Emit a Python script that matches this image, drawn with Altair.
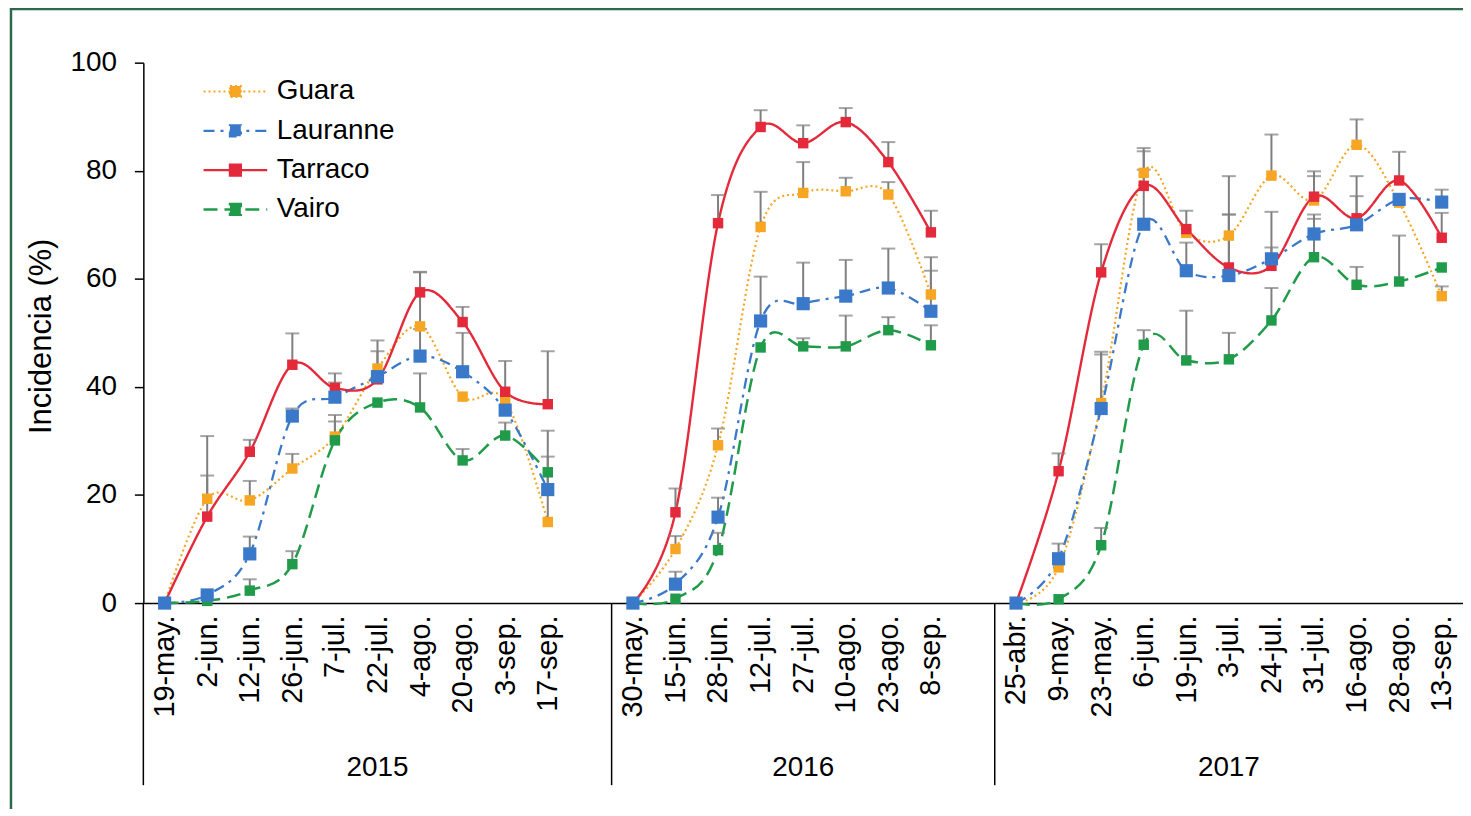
import json
import altair as alt
import pandas as pd

# ---------------- data ----------------
years = ["2015", "2016", "2017"]
dates_2015 = ["19-may.", "2-jun.", "12-jun.", "26-jun.", "7-jul.", "22-jul.", "4-ago.", "20-ago.", "3-sep.", "17-sep."]
dates_2016 = ["30-may.", "15-jun.", "28-jun.", "12-jul.", "27-jul.", "10-ago.", "23-ago.", "8-sep."]
dates_2017 = ["25-abr.", "9-may.", "23-may.", "6-jun.", "19-jun.", "3-jul.", "24-jul.", "31-jul.", "16-ago.", "28-ago.", "13-sep."]

series = ["Guara", "Lauranne", "Tarraco", "Vairo"]

guara_2015 = [0, 19.3, 19.0, 24.9, 30.8, 43.4, 51.2, 38.2, 37.5, 15.0]
guara_2016 = [0, 10.0, 29.2, 69.6, 75.9, 76.2, 75.6, 57.1]
guara_2017 = [0, 6.6, 37.0, 79.6, 68.5, 68.0, 79.1, 74.5, 84.8, 74.1, 56.8]

lauranne_2015 = [0, 1.5, 9.1, 34.6, 38.1, 41.9, 45.7, 42.8, 35.7, 21.0]
lauranne_2016 = [0, 3.5, 15.9, 52.2, 55.4, 56.8, 58.3, 54.0]
lauranne_2017 = [0, 8.2, 36.0, 70.1, 61.5, 60.6, 63.7, 68.3, 70.0, 74.7, 74.2]

tarraco_2015 = [0, 16.0, 28.0, 44.1, 39.8, 41.4, 57.5, 52.0, 39.1, 36.8]
tarraco_2016 = [0, 16.8, 70.3, 88.1, 85.1, 89.0, 81.6, 68.6]
tarraco_2017 = [0, 24.4, 61.2, 77.2, 69.2, 62.1, 62.4, 75.2, 71.2, 78.2, 67.6]

vairo_2015 = [0, 0.4, 2.3, 7.2, 30.1, 37.1, 36.2, 26.4, 31.0, 24.2]
vairo_2016 = [0, 0.8, 9.8, 47.3, 47.5, 47.5, 50.5, 47.7]
vairo_2017 = [0, 0.7, 10.7, 47.8, 44.9, 45.1, 52.3, 64.0, 58.9, 59.5, 62.1]

# upper error bars (None = not visible)
guara_err_2015 = [None, 11.6, 3.6, 2.7, 4.0, 5.2, 10.0, None, None, 16.9]
guara_err_2016 = [None, 2.4, 3.1, 6.5, 5.7, 2.5, 2.3, 6.9]
guara_err_2017 = [None, None, 9.0, 4.6, None, 11.0, 7.6, 4.5, 4.7, None, 1.8]

lauranne_err_2015 = [None, None, 3.2, 1.4, 2.7, None, 5.0, 7.2, None, 6.1]
lauranne_err_2016 = [None, 2.3, 3.6, 8.2, 7.6, 6.7, 7.3, 7.5]
lauranne_err_2017 = [None, 2.8, 10.5, 13.5, 5.2, 11.3, 8.7, 3.6, 9.0, None, 2.3]

tarraco_err_2015 = [None, 7.6, 2.2, 5.8, 2.7, 5.2, 3.8, 2.8, 5.7, 9.8]
tarraco_err_2016 = [None, 4.4, 5.2, 3.1, 3.3, 2.6, 3.7, 4.0]
tarraco_err_2017 = [None, 3.3, 5.2, 3.0, 3.4, 9.8, 3.4, 4.7, 4.1, 5.3, 4.6]

vairo_err_2015 = [None, None, 2.1, 2.4, 3.5, None, 6.3, 2.1, 2.4, None]
vairo_err_2016 = [None, None, 3.2, None, 1.5, 5.7, 2.4, 3.7]
vairo_err_2017 = [None, None, 3.2, 2.7, 9.2, 4.9, 6.0, 7.1, 3.3, 8.5, None]

# ---------------- styles ----------------
colors = ["#F6A623", "#3A78C9", "#E3293A", "#1F9B4A"]
dashes = [[2, 3], [11, 6, 3, 6], [1, 0], [14, 7]]
line_widths = [2.2, 2.5, 2.5, 3]
FONT = "Liberation Sans"
PLOT_W, PLOT_H = 1326, 543
SYM = "M-1,0H1M-0.17,-0.17H0.17V0.17H-0.17Z"

# ---------------- table ----------------
values = {
    "Guara": [guara_2015, guara_2016, guara_2017],
    "Lauranne": [lauranne_2015, lauranne_2016, lauranne_2017],
    "Tarraco": [tarraco_2015, tarraco_2016, tarraco_2017],
    "Vairo": [vairo_2015, vairo_2016, vairo_2017],
}
errors = {
    "Guara": [guara_err_2015, guara_err_2016, guara_err_2017],
    "Lauranne": [lauranne_err_2015, lauranne_err_2016, lauranne_err_2017],
    "Tarraco": [tarraco_err_2015, tarraco_err_2016, tarraco_err_2017],
    "Vairo": [vairo_err_2015, vairo_err_2016, vairo_err_2017],
}
date_groups = [dates_2015, dates_2016, dates_2017]

rows = []
labels = []
label_idx = []
bounds = []
centers = []
start = 0
for gi, (yr, dates) in enumerate(zip(years, date_groups)):
    last = gi == len(years) - 1
    for di, d in enumerate(dates):
        idx = start + di
        labels.append(d)
        label_idx.append(idx)
        for s in series:
            rows.append({"series": s, "year": yr, "idx": idx,
                         "value": values[s][gi][di], "err": errors[s][gi][di]})
    lo = start - 0.5
    hi = start + len(dates) - 0.5 + (0 if last else 1)
    bounds.append(lo)
    centers.append((lo + hi) / 2)
    if not last:
        labels.append("")
    start += len(dates) + (0 if last else 1)
n_slots = start

df = pd.DataFrame(rows)
sep_df = pd.DataFrame({"b": bounds})
year_df = pd.DataFrame({"year": years, "center": centers})
frame_df = pd.DataFrame({"k": [0]})

x_scale = alt.Scale(domain=[-0.5, n_slots - 0.5], nice=False, zero=False)
y_scale = alt.Scale(domain=[0, 100], nice=False)

x_axis = alt.Axis(values=label_idx, labelExpr=json.dumps(labels) + "[datum.value]",
                  labelAngle=270, labelFont=FONT, labelFontSize=29, labelColor="black",
                  labelPadding=12, labelFlush=False, labelOverlap=False, ticks=False,
                  grid=False, domainColor="black", domainWidth=1.5)
y_axis = alt.Axis(values=[0, 20, 40, 60, 80, 100], grid=False, tickSize=9, tickWidth=1.5,
                  tickColor="black", domainColor="black", domainWidth=1.5,
                  labelFont=FONT, labelFontSize=28, labelColor="black", labelPadding=18,
                  titleFont=FONT, titleFontSize=31, titleFontWeight="normal", titleColor="black",
                  titleX=-102, titleY=PLOT_H / 2 + 3, titleAlign="center", titleBaseline="middle")

leg = alt.Legend(title=None, orient="none", legendX=59, legendY=15, symbolType=SYM,
                 symbolSize=4096, symbolStrokeWidth=2.5, labelFont=FONT, labelFontSize=28,
                 labelColor="black", clipHeight=28, rowPadding=11.5, labelOffset=8, padding=0)

YT = "Incidencia (%)"


def xq(field):
    return alt.X(field, scale=x_scale, axis=x_axis, title=None)


def yq(field):
    return alt.Y(field, scale=y_scale, axis=y_axis, title=YT)


base = alt.Chart(df)

lines = base.mark_line(interpolate="cardinal").encode(
    x=xq("idx:Q"), y=yq("value:Q"),
    stroke=alt.Stroke("series:N", scale=alt.Scale(domain=series, range=colors), legend=leg),
    strokeDash=alt.StrokeDash("series:N", scale=alt.Scale(domain=series, range=dashes), legend=leg),
    strokeWidth=alt.StrokeWidth("series:N", scale=alt.Scale(domain=series, range=line_widths), legend=None),
    detail="year:N",
    order="idx:Q",
)

err_base = base.transform_filter("isValid(datum.err)").transform_calculate(top="datum.value + datum.err")
err_rules = err_base.mark_rule(color="#7F7F7F", strokeWidth=2).encode(
    x=xq("idx:Q"), y=yq("value:Q"), y2="top:Q")
err_caps = err_base.mark_tick(color="#7F7F7F", orient="horizontal", size=14, thickness=2).encode(
    x=xq("idx:Q"), y=yq("top:Q"))

fill_enc = alt.Fill("series:N", scale=alt.Scale(domain=series, range=colors), legend=leg)
points_small = base.transform_filter(alt.datum.series != "Lauranne").mark_point(
    shape="square", filled=True, opacity=1, size=110).encode(x=xq("idx:Q"), y=yq("value:Q"), fill=fill_enc)
points_big = base.transform_filter(alt.datum.series == "Lauranne").mark_point(
    shape="square", filled=True, opacity=1, size=175).encode(x=xq("idx:Q"), y=yq("value:Q"), fill=fill_enc)

seps = alt.Chart(sep_df).mark_rule(color="black", strokeWidth=1.5).encode(
    x=xq("b:Q"), y=alt.value(PLOT_H), y2=alt.value(PLOT_H + 183))

year_text = alt.Chart(year_df).mark_text(font=FONT, fontSize=28, color="black", baseline="middle").encode(
    x=xq("center:Q"), y=alt.value(PLOT_H + 166), text="year:N")

frame = alt.Chart(frame_df).mark_rect(fill="white", fillOpacity=0, stroke="#2B6A4C", strokeWidth=2.5).encode(
    x=alt.value(-133), x2=alt.value(PLOT_W + 100), y=alt.value(-54), y2=alt.value(PLOT_H + 300))

chart = alt.layer(lines, frame, seps, year_text, err_rules, err_caps, points_small, points_big).properties(
    width=PLOT_W, height=PLOT_H,
    autosize=alt.AutoSizeParams(type="none"),
    padding={"left": 136, "top": 53, "right": 0, "bottom": 205},
    background="white",
    view=alt.ViewBackground(stroke="transparent", strokeWidth=0),
).configure_view(stroke="transparent", strokeWidth=0).configure(font=FONT)

chart.save("out.html", embed_options={"renderer": "svg", "actions": False})
